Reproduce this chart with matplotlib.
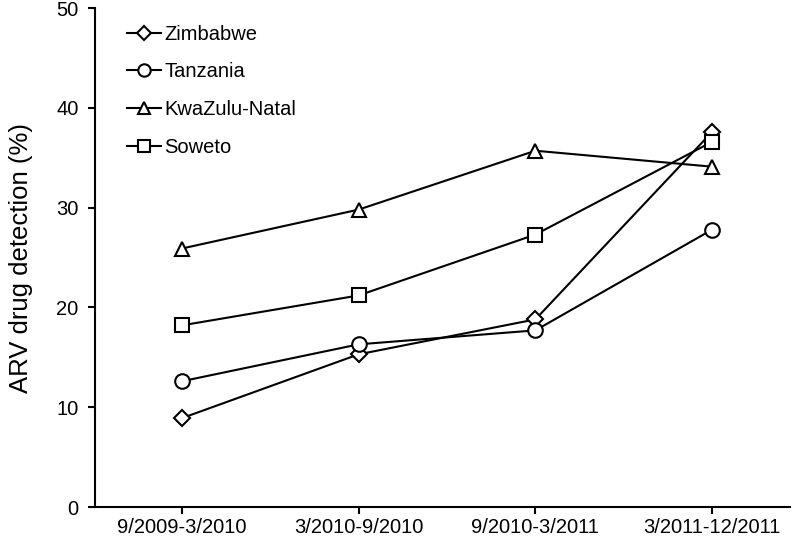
import numpy as np
import matplotlib
matplotlib.use("Agg")
import matplotlib.pyplot as plt

plt.rcParams["font.family"] = ["Liberation Sans", "DejaVu Sans"]

# Data
periods = ["9/2009-3/2010", "3/2010-9/2010", "9/2010-3/2011", "3/2011-12/2011"]
zimbabwe = [8.9, 15.3, 18.8, 37.6]
tanzania = [12.6, 16.3, 17.7, 27.8]
kwazulu_natal = [25.9, 29.8, 35.7, 34.1]
soweto = [18.2, 21.2, 27.3, 36.6]

series = [
    ("Zimbabwe", zimbabwe, "D", 8.5),
    ("Tanzania", tanzania, "o", 10.5),
    ("KwaZulu-Natal", kwazulu_natal, "^", 10),
    ("Soweto", soweto, "s", 10),
]

fig = plt.figure(figsize=(8, 5.38), dpi=100)
ax = fig.add_axes([0.119, 0.0576, 0.8685, 0.9275])

x = np.arange(len(periods))
for name, vals, mk, ms in series:
    ax.plot(x, vals, color="black", lw=1.5, marker=mk, ms=ms,
            mfc="white", mec="black", mew=1.5, label=name)

ax.set_xlim(-0.49, 3.44)
ax.set_ylim(0, 50)
ax.set_xticks(x)
ax.set_xticklabels(periods)
ax.set_yticks(range(0, 51, 10))
ax.set_ylabel("ARV drug detection (%)", fontsize=18.5, labelpad=17)
ax.tick_params(axis="both", labelsize=14.5, width=1.5, length=5, direction="out")
ax.tick_params(axis="y", pad=7)
ax.tick_params(axis="x", pad=3)

for side in ("top", "right"):
    ax.spines[side].set_visible(False)
for side in ("left", "bottom"):
    ax.spines[side].set_linewidth(1.5)

leg = ax.legend(loc="upper left", bbox_to_anchor=(0.02, 1.003), frameon=False,
                fontsize=14.5, handlelength=1.7, handletextpad=0.15,
                labelspacing=0.93, markerscale=0.85)

fig.savefig("out.png", dpi=100)
